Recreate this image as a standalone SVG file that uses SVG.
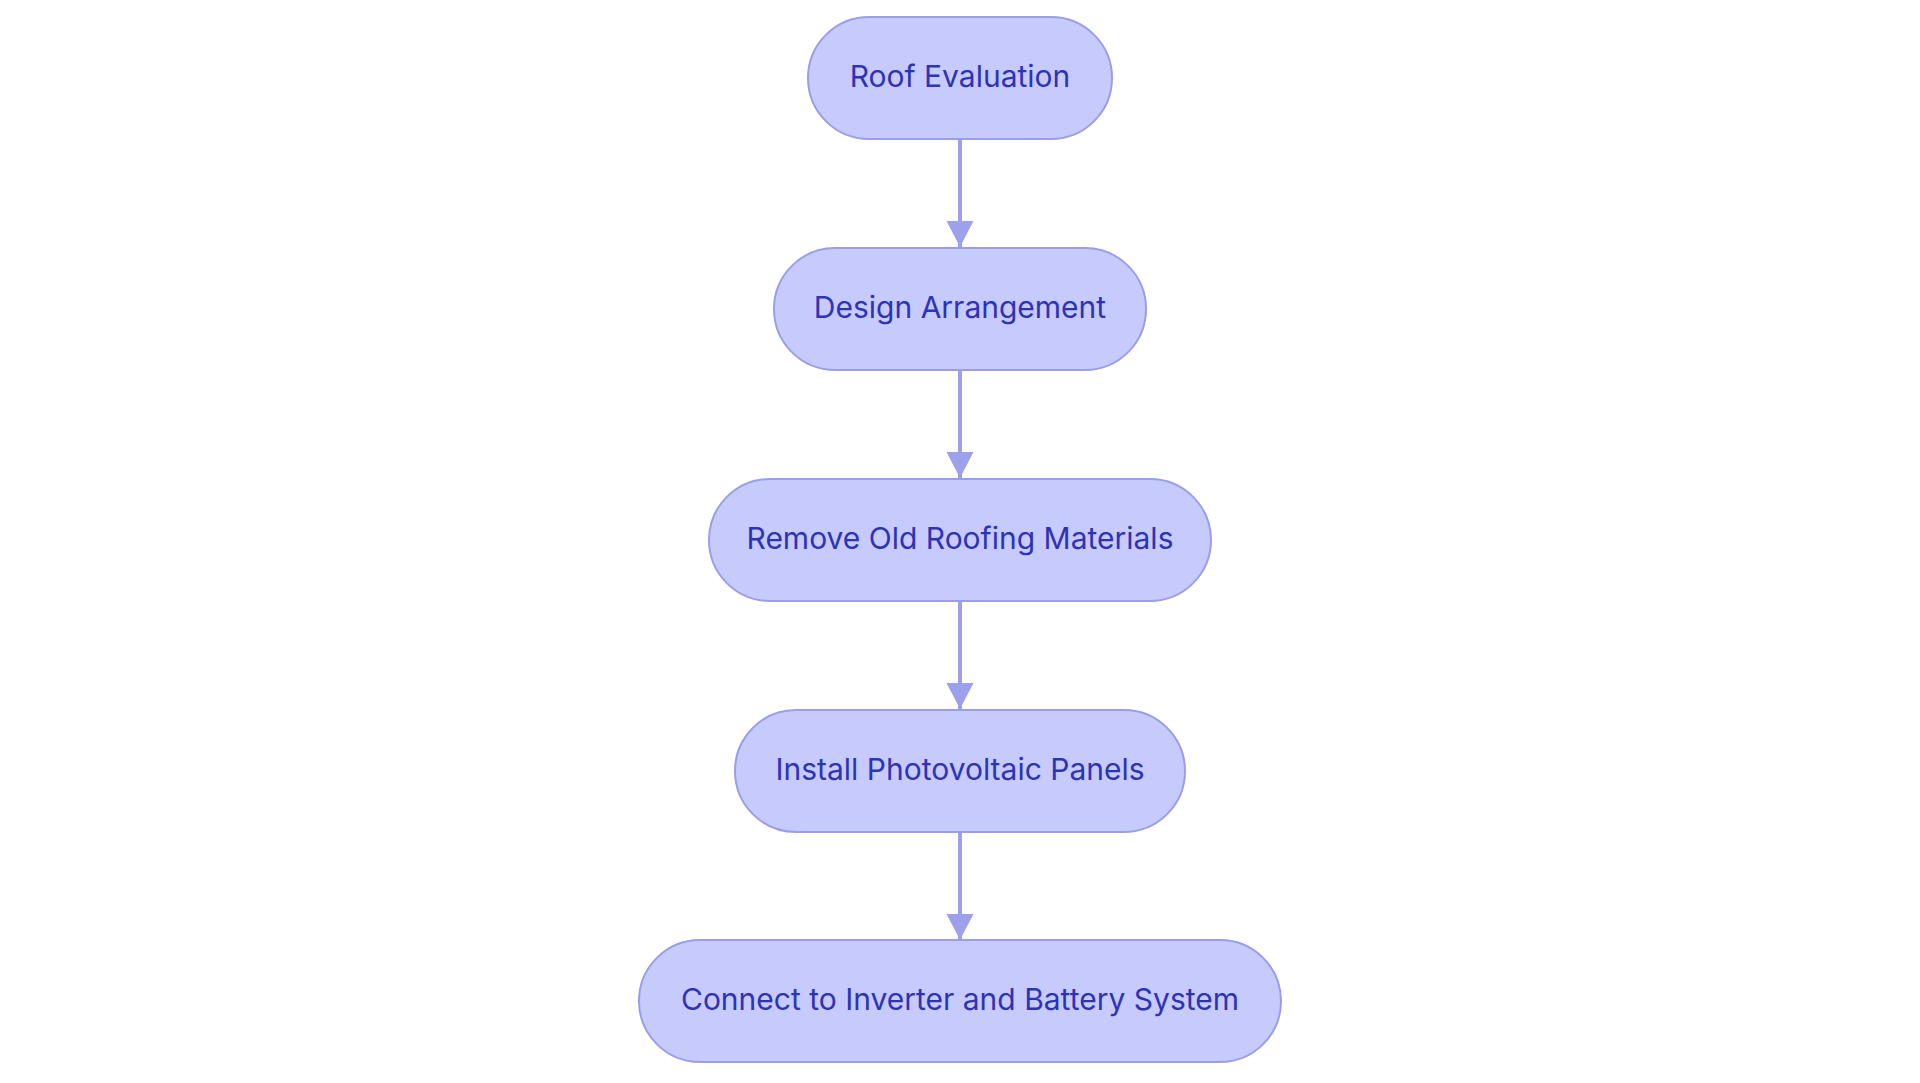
<svg xmlns="http://www.w3.org/2000/svg" width="1920" height="1083" viewBox="0 0 1920 1083">
<style>
.node rect{fill:#c7cafd;stroke:#9a9eea;stroke-width:2}
.node text{font-family:Inter,"Noto Sans",sans-serif;font-size:30px;font-weight:400;fill:#2e33b6;text-anchor:middle;dominant-baseline:central}
.edge{stroke:#9da0ec;stroke-width:4;fill:none}
</style>
<defs>
<marker id="arr" markerUnits="userSpaceOnUse" markerWidth="28" markerHeight="28" refX="26" refY="13.5" orient="auto">
<path d="M0,0 L26,13.5 L0,27 Z" fill="#9da0ec"/>
</marker>
</defs>
<rect width="1920" height="1083" fill="#ffffff"/>
<g id="connectors">
<line class="edge" x1="960" y1="139" x2="960" y2="247" marker-end="url(#arr)"/>
<line class="edge" x1="960" y1="370" x2="960" y2="478" marker-end="url(#arr)"/>
<line class="edge" x1="960" y1="601" x2="960" y2="709" marker-end="url(#arr)"/>
<line class="edge" x1="960" y1="832" x2="960" y2="940" marker-end="url(#arr)"/>
</g>
<g id="n1" class="node"><rect x="808" y="17" width="304" height="122" rx="61"/><text x="960" y="76">Roof Evaluation</text></g>
<g id="n2" class="node"><rect x="774" y="248" width="372" height="122" rx="61"/><text x="960" y="307">Design Arrangement</text></g>
<g id="n3" class="node"><rect x="709" y="479" width="502" height="122" rx="61"/><text x="960" y="538">Remove Old Roofing Materials</text></g>
<g id="n4" class="node"><rect x="735" y="710" width="450" height="122" rx="61"/><text x="960" y="769">Install Photovoltaic Panels</text></g>
<g id="n5" class="node"><rect x="639" y="940" width="642" height="122" rx="61"/><text x="960" y="999">Connect to Inverter and Battery System</text></g>
</svg>
